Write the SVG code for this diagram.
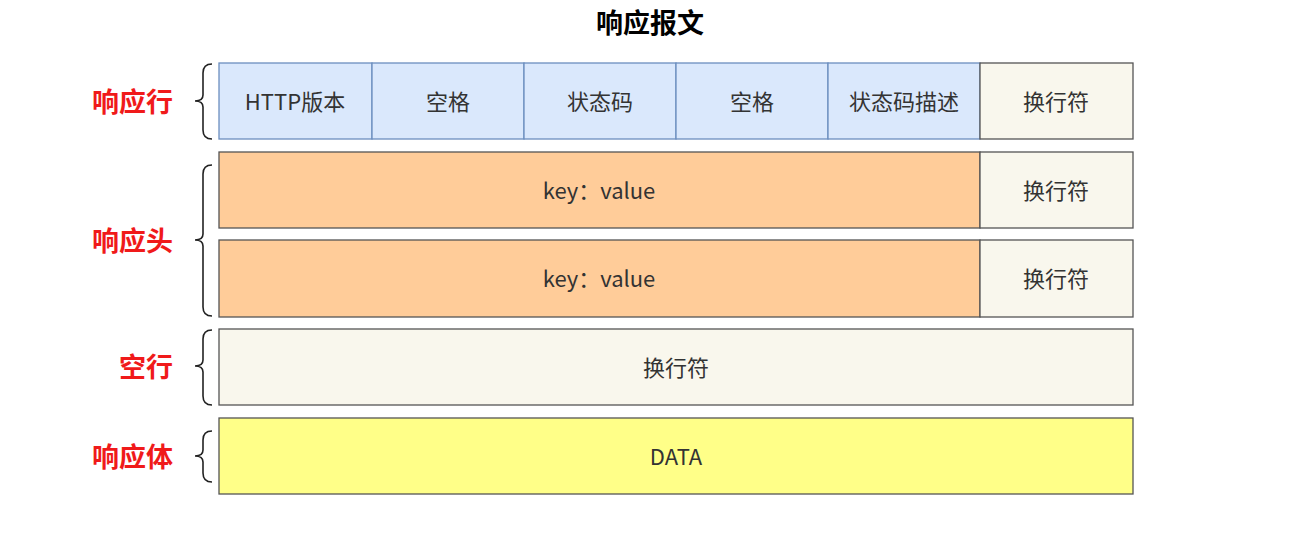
<svg xmlns="http://www.w3.org/2000/svg" width="1303" height="553" viewBox="0 0 1303 553">
<style>
.t{font-family:"Noto Sans CJK SC","Liberation Sans",sans-serif;font-size:22px;fill:#333;text-anchor:middle;dominant-baseline:central}
.lbl{font-family:"Noto Sans CJK SC",sans-serif;font-size:27px;font-weight:bold;fill:#f01a1a;text-anchor:end;dominant-baseline:central}
.title{font-family:"Noto Sans CJK SC",sans-serif;font-size:27px;font-weight:bold;fill:#000;text-anchor:middle;dominant-baseline:central}
.blue{fill:#dae8fc;stroke:#6c8ebf;stroke-width:1.3}
.beige{fill:#f9f7ed;stroke:#555;stroke-width:1.3}
.orange{fill:#ffcc99;stroke:#555;stroke-width:1.3}
.yellow{fill:#ffff88;stroke:#555;stroke-width:1.3}
.brace{fill:none;stroke:#222;stroke-width:1.6}
</style>
<rect width="1303" height="553" fill="#fff"/>
<text class="title" x="650" y="21">响应报文</text>
<g id="labels">
<text class="lbl" x="173" y="100">响应行</text>
<text class="lbl" x="173" y="239">响应头</text>
<text class="lbl" x="173" y="365">空行</text>
<text class="lbl" x="173" y="455">响应体</text>
</g>
<g id="braces">
<path class="brace" d="M212,64 Q203,64 203,73 L203,95 Q203,101 195,101 Q203,101 203,107 L203,130 Q203,139 212,139"/>
<path class="brace" d="M212,165 Q203,165 203,174 L203,234 Q203,240 195,240 Q203,240 203,246 L203,307 Q203,316 212,316"/>
<path class="brace" d="M212,330 Q203,330 203,339 L203,360 Q203,366 195,366 Q203,366 203,372 L203,396 Q203,405 212,405"/>
<path class="brace" d="M212,431 Q203,431 203,440 L203,450 Q203,456 195,456 Q203,456 203,462 L203,473 Q203,482 212,482"/>
</g>
<g id="row1">
<g id="http-version"><rect class="blue" x="219" y="63" width="153" height="76"/><text class="t" x="295" y="100">HTTP版本</text></g>
<g id="space1"><rect class="blue" x="372" y="63" width="152" height="76"/><text class="t" x="448" y="100">空格</text></g>
<g id="status-code"><rect class="blue" x="524" y="63" width="152" height="76"/><text class="t" x="600" y="100">状态码</text></g>
<g id="space2"><rect class="blue" x="676" y="63" width="152" height="76"/><text class="t" x="752" y="100">空格</text></g>
<g id="status-desc"><rect class="blue" x="828" y="63" width="152" height="76"/><text class="t" x="904" y="100">状态码描述</text></g>
<g id="crlf1"><rect class="beige" x="980" y="63" width="153" height="76"/><text class="t" x="1056" y="100">换行符</text></g>
</g>
<g id="row2">
<g id="kv1"><rect class="orange" x="219" y="152" width="761" height="76"/><text class="t" x="599" y="189">key：value</text></g>
<g id="crlf2"><rect class="beige" x="980" y="152" width="153" height="76"/><text class="t" x="1056" y="189">换行符</text></g>
</g>
<g id="row3">
<g id="kv2"><rect class="orange" x="219" y="240" width="761" height="77"/><text class="t" x="599" y="277">key：value</text></g>
<g id="crlf3"><rect class="beige" x="980" y="240" width="153" height="77"/><text class="t" x="1056" y="277">换行符</text></g>
</g>
<g id="blank-line"><rect class="beige" x="219" y="329" width="914" height="76"/><text class="t" x="676" y="366">换行符</text></g>
<g id="body"><rect class="yellow" x="219" y="418" width="914" height="76"/><text class="t" x="676" y="455">DATA</text></g>
<g id="connectors"/>
</svg>
